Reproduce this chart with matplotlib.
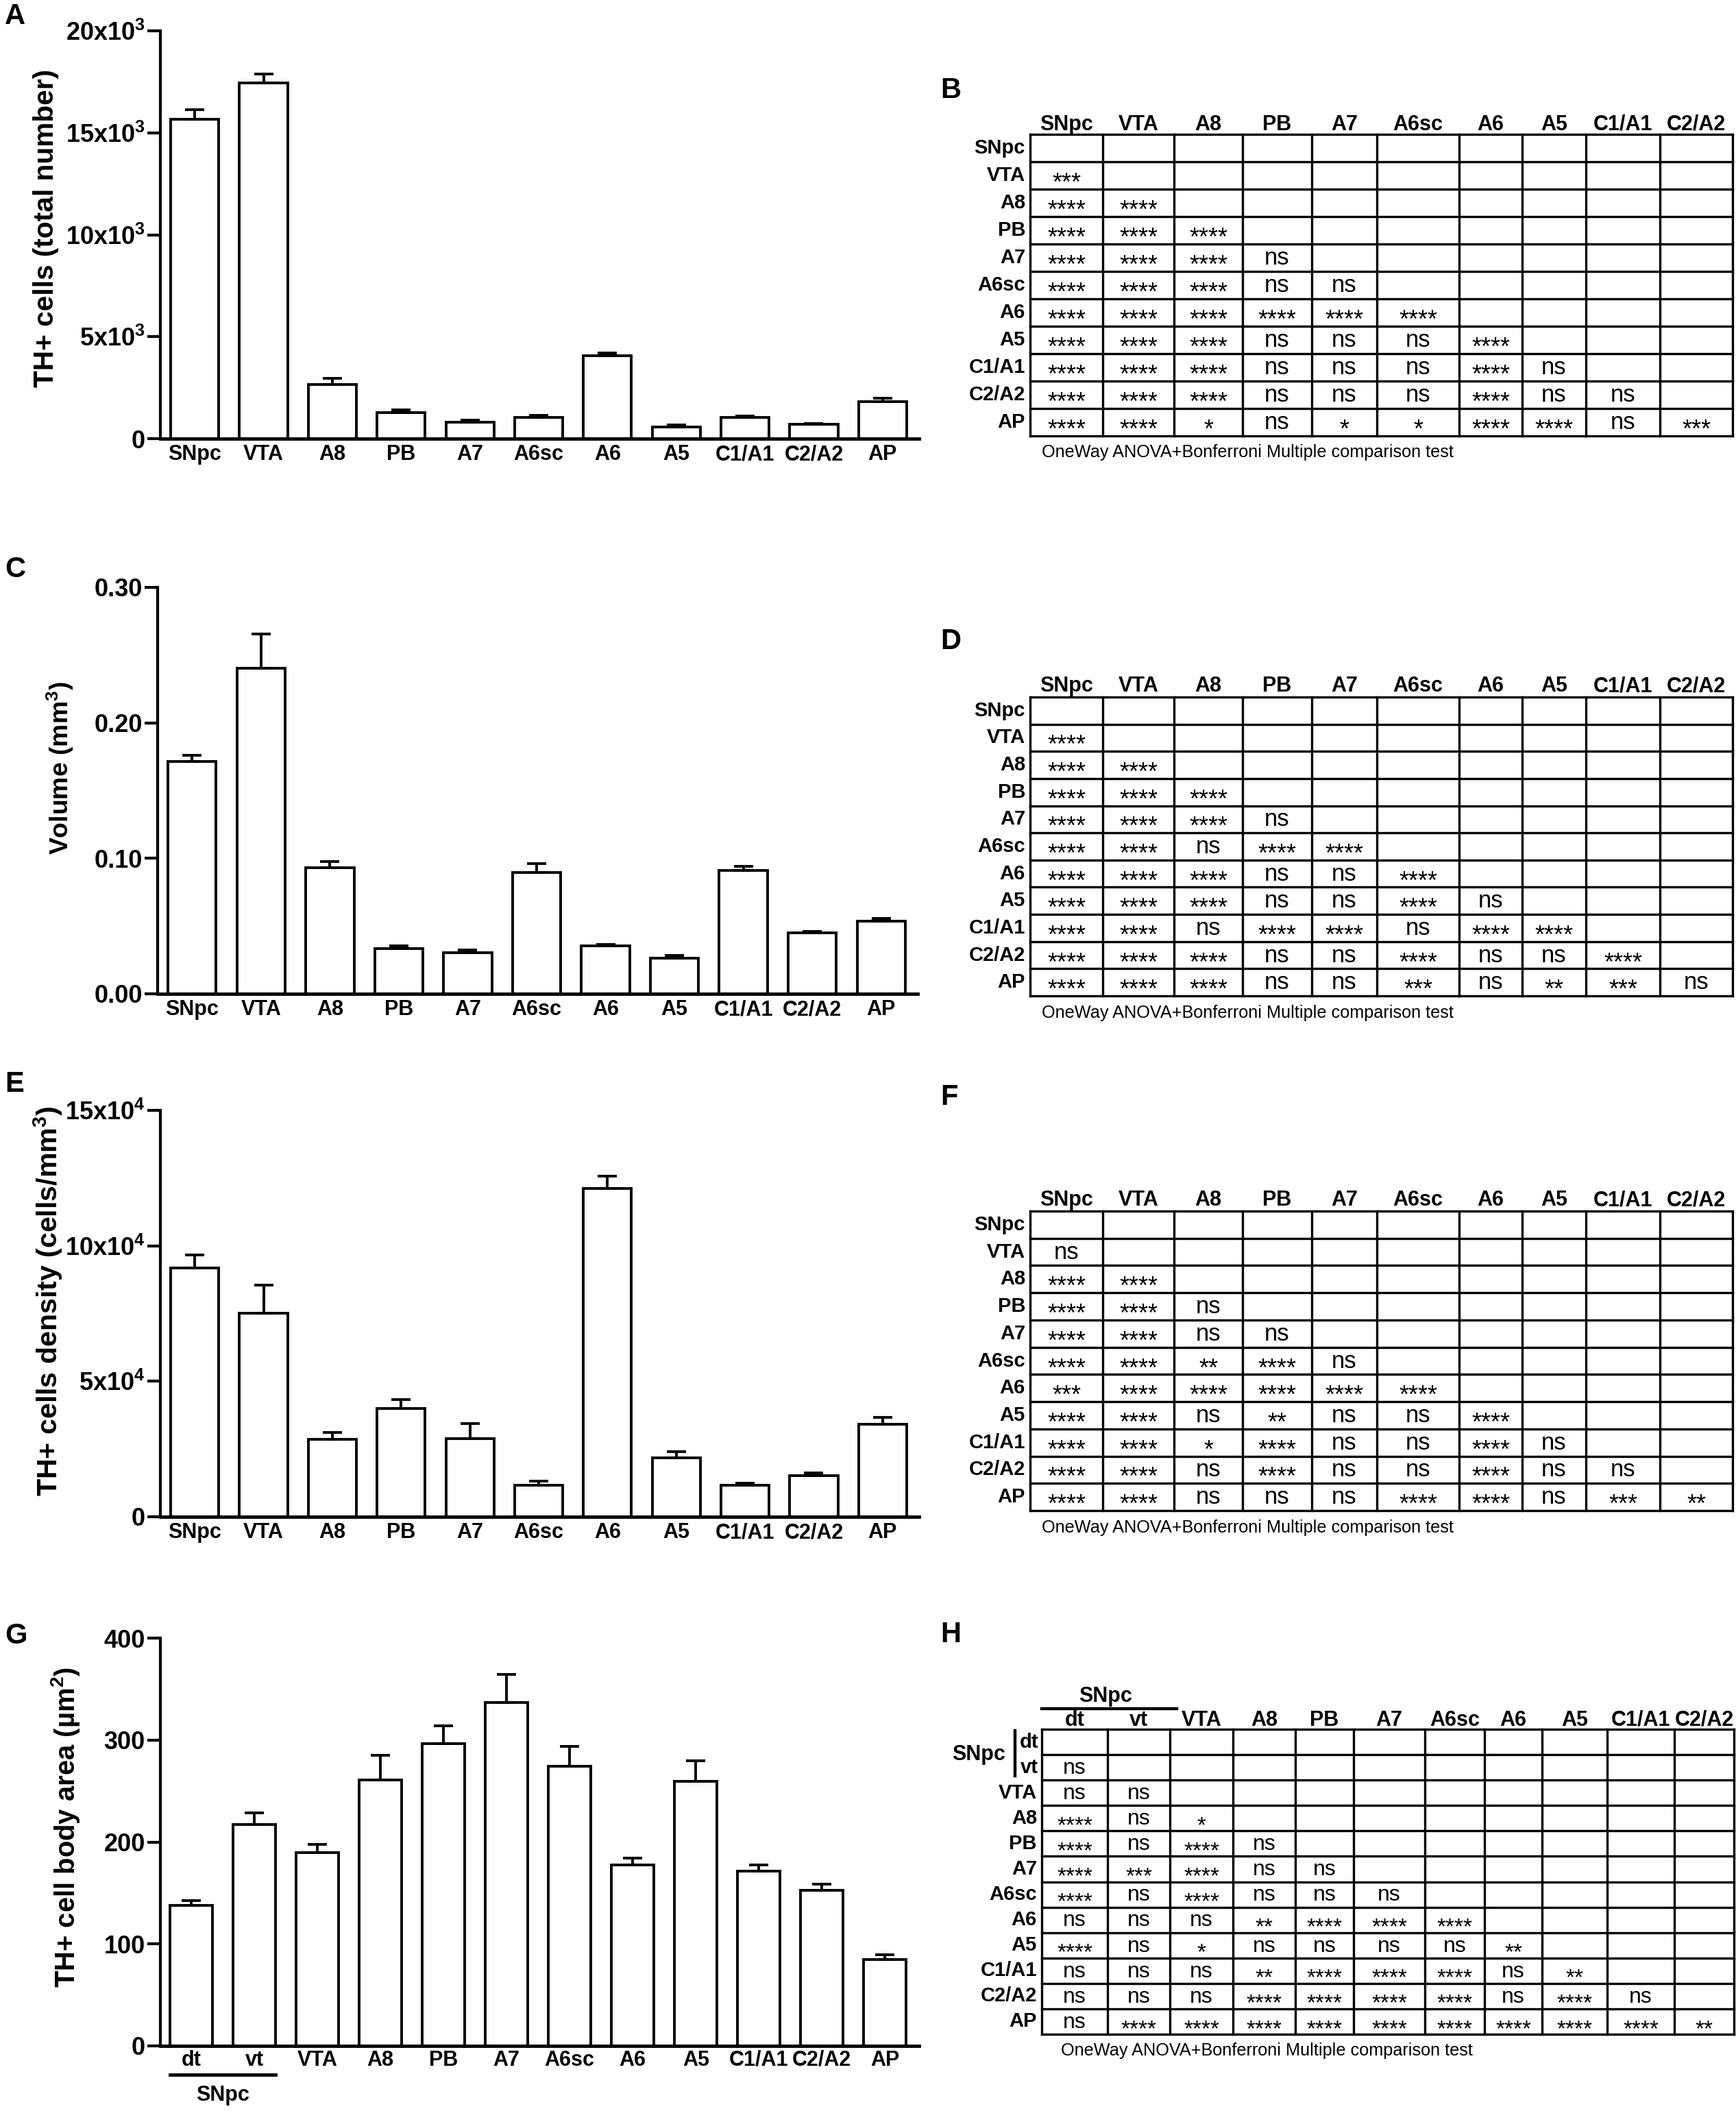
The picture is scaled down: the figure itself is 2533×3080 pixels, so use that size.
import numpy as np
import matplotlib
matplotlib.use('Agg')
import matplotlib.pyplot as plt
from matplotlib import font_manager
from matplotlib.transforms import blended_transform_factory

W, H = 2533, 3080

plt.rcParams['font.family'] = ['Liberation Sans', 'DejaVu Sans']
plt.rcParams['mathtext.default'] = 'regular'

names = {f.name for f in font_manager.fontManager.ttflist}
NARROW = 'Liberation Sans Narrow' if 'Liberation Sans Narrow' in names else 'Liberation Sans'

# ---- bar chart data ----
regions = ['SNpc', 'VTA', 'A8', 'PB', 'A7', 'A6sc', 'A6', 'A5', 'C1/A1', 'C2/A2', 'AP']

cell_number = [15660, 17450, 2650, 1270, 810, 1030, 4070, 580, 1050, 700, 1810]
cell_number_sem = [470, 440, 300, 140, 100, 120, 120, 80, 60, 50, 170]

volume = [0.1714, 0.2402, 0.0929, 0.0332, 0.0302, 0.0893, 0.0352, 0.0264, 0.0909, 0.0449, 0.0537]
volume_sem = [0.0046, 0.0253, 0.0046, 0.0022, 0.0023, 0.0068, 0.0013, 0.0018, 0.0032, 0.0011, 0.0020]

density = [91700, 75200, 28500, 40000, 28900, 11600, 121200, 21700, 11600, 15300, 34100]
density_sem = [4900, 10400, 2600, 3200, 5400, 1600, 4400, 2300, 700, 900, 2500]

area_labels = ['dt', 'vt', 'VTA', 'A8', 'PB', 'A7', 'A6sc', 'A6', 'A5', 'C1/A1', 'C2/A2', 'AP']
cell_area = [137.5, 217.2, 189.7, 260.6, 296.3, 336.8, 274.2, 177.7, 259.3, 171.1, 152.4, 84.7]
cell_area_sem = [4.8, 11.4, 7.9, 24.6, 17.4, 27.5, 19.6, 6.3, 20.2, 6.6, 6.3, 4.5]

# ---- comparison tables (lower triangle, row by row) ----
table_cols = ['SNpc', 'VTA', 'A8', 'PB', 'A7', 'A6sc', 'A6', 'A5', 'C1/A1', 'C2/A2']
table_rows = regions

sig_number = [
    [],
    ['***'],
    ['****', '****'],
    ['****', '****', '****'],
    ['****', '****', '****', 'ns'],
    ['****', '****', '****', 'ns', 'ns'],
    ['****', '****', '****', '****', '****', '****'],
    ['****', '****', '****', 'ns', 'ns', 'ns', '****'],
    ['****', '****', '****', 'ns', 'ns', 'ns', '****', 'ns'],
    ['****', '****', '****', 'ns', 'ns', 'ns', '****', 'ns', 'ns'],
    ['****', '****', '*', 'ns', '*', '*', '****', '****', 'ns', '***'],
]

sig_volume = [
    [],
    ['****'],
    ['****', '****'],
    ['****', '****', '****'],
    ['****', '****', '****', 'ns'],
    ['****', '****', 'ns', '****', '****'],
    ['****', '****', '****', 'ns', 'ns', '****'],
    ['****', '****', '****', 'ns', 'ns', '****', 'ns'],
    ['****', '****', 'ns', '****', '****', 'ns', '****', '****'],
    ['****', '****', '****', 'ns', 'ns', '****', 'ns', 'ns', '****'],
    ['****', '****', '****', 'ns', 'ns', '***', 'ns', '**', '***', 'ns'],
]

sig_density = [
    [],
    ['ns'],
    ['****', '****'],
    ['****', '****', 'ns'],
    ['****', '****', 'ns', 'ns'],
    ['****', '****', '**', '****', 'ns'],
    ['***', '****', '****', '****', '****', '****'],
    ['****', '****', 'ns', '**', 'ns', 'ns', '****'],
    ['****', '****', '*', '****', 'ns', 'ns', '****', 'ns'],
    ['****', '****', 'ns', '****', 'ns', 'ns', '****', 'ns', 'ns'],
    ['****', '****', 'ns', 'ns', 'ns', '****', '****', 'ns', '***', '**'],
]

area_cols = ['dt', 'vt', 'VTA', 'A8', 'PB', 'A7', 'A6sc', 'A6', 'A5', 'C1/A1', 'C2/A2']
area_rows = ['dt', 'vt', 'VTA', 'A8', 'PB', 'A7', 'A6sc', 'A6', 'A5', 'C1/A1', 'C2/A2', 'AP']
sig_area = [
    [],
    ['ns'],
    ['ns', 'ns'],
    ['****', 'ns', '*'],
    ['****', 'ns', '****', 'ns'],
    ['****', '***', '****', 'ns', 'ns'],
    ['****', 'ns', '****', 'ns', 'ns', 'ns'],
    ['ns', 'ns', 'ns', '**', '****', '****', '****'],
    ['****', 'ns', '*', 'ns', 'ns', 'ns', 'ns', '**'],
    ['ns', 'ns', 'ns', '**', '****', '****', '****', 'ns', '**'],
    ['ns', 'ns', 'ns', '****', '****', '****', '****', 'ns', '****', 'ns'],
    ['ns', '****', '****', '****', '****', '****', '****', '****', '****', '****', '**'],
]

note = 'OneWay ANOVA+Bonferroni Multiple comparison test'

fig = plt.figure(figsize=(W / 100, H / 100), dpi=100)
renderer = fig.canvas.get_renderer()

ov = fig.add_axes([0, 0, 1, 1])
ov.set_xlim(0, W)
ov.set_ylim(H, 0)
ov.axis('off')


def px_rect(x0, y0, x1, y1):
    return [x0 / W, 1 - y1 / H, (x1 - x0) / W, (y1 - y0) / H]


def fit(txt, target, dim='w'):
    # scale a text so that it spans `target` pixels
    bb = txt.get_window_extent(renderer)
    cur = bb.width if dim == 'w' else bb.height
    txt.set_fontsize(txt.get_fontsize() * target / cur)


def bar_panel(rect, labels, means, sems, ymax, ticks, ticklabels, ylabel, label_pos, label_len,
              width=0.7, xlim=(-0.5, 10.53), pad=6):
    ax = fig.add_axes(px_rect(*rect))
    x = np.arange(len(labels))
    ax.bar(x, means, width, color='white', edgecolor='black', linewidth=2.8, zorder=2)
    ax.errorbar(x, means, yerr=[np.zeros(len(means)), sems], fmt='none', ecolor='black',
                elinewidth=2.8, capsize=10, capthick=2.8, zorder=3)
    ax.set_xlim(*xlim)
    ax.set_ylim(0, ymax)
    ax.spines['top'].set_visible(False)
    ax.spines['right'].set_visible(False)
    ax.spines['left'].set_linewidth(3)
    ax.spines['bottom'].set_linewidth(3.5)
    ax.spines['bottom'].set_zorder(4)
    ax.set_yticks(ticks)
    ax.set_yticklabels(ticklabels, fontsize=26, fontweight='bold')
    ax.set_xticks(x)
    ax.set_xticklabels(labels, fontsize=22, fontweight='bold')
    ax.tick_params(axis='y', length=14, width=3, pad=2)
    ax.tick_params(axis='x', length=0, pad=pad)
    ax.set_ylabel(ylabel, fontsize=30, fontweight='bold')
    ax.yaxis.label.set_va('center')
    ax.yaxis.set_label_coords(*label_pos)
    fit(ax.yaxis.label, label_len, 'h')
    return ax


def put_cell(x, y, s, size):
    em = size * 100 / 72
    if s == 'ns':
        ov.text(x, y + 0.26 * em + 1, s, ha='center', va='baseline', fontsize=size)
    else:
        ov.text(x, y + 0.575 * em + 2, s, ha='center', va='baseline', fontsize=size + 1)


def sig_table(left, top, bottom, col_w, col_labels, row_labels, cells, note_x, note_y,
              header_gap=15, size=25):
    xs = left + np.concatenate([[0], np.cumsum(col_w)])
    ys = np.linspace(top, bottom, len(row_labels) + 1)
    for xv in xs:
        ov.plot([xv, xv], [top, bottom], color='black', lw=2.4, solid_capstyle='projecting')
    for yv in ys:
        ov.plot([xs[0], xs[-1]], [yv, yv], color='black', lw=2.4, solid_capstyle='projecting')
    cx = (xs[:-1] + xs[1:]) / 2
    cy = (ys[:-1] + ys[1:]) / 2
    for c, lab in zip(cx, col_labels):
        ov.text(c, top - header_gap, lab, ha='center', va='center', fontsize=22, fontweight='bold')
    for r, lab in zip(cy, row_labels):
        if lab:
            ov.text(left - 7, r, lab, ha='right', va='center', fontsize=21, fontweight='bold')
    for i, row in enumerate(cells):
        for j, s in enumerate(row):
            put_cell(cx[j], cy[i], s, size)
    t = ov.text(note_x, note_y + 2, note, ha='left', va='center', fontsize=20, family=NARROW)
    fit(t, 600)
    return xs, ys


# ---- A ----
bar_panel((234, 45, 1341, 640), regions, cell_number, cell_number_sem, 20000,
          [0, 5000, 10000, 15000, 20000],
          ['0', r'5x10$^3$', r'10x10$^3$', r'15x10$^3$', r'20x10$^3$'],
          'TH+ cells (total number)', (-0.151, 0.516), 464)

# ---- C ----
bar_panel((230, 857, 1339, 1450), regions, volume, volume_sem, 0.30,
          [0, 0.1, 0.2, 0.3], ['0.00', '0.10', '0.20', '0.30'],
          r'Volume (mm$^3$)', (-0.128, 0.556), 252)

# ---- E ----
bar_panel((234, 1620, 1341, 2213), regions, density, density_sem, 150000,
          [0, 50000, 100000, 150000], ['0', r'5x10$^4$', r'10x10$^4$', r'15x10$^4$'],
          r'TH+ cells density (cells/mm$^3$)', (-0.148, 0.531), 569)

# ---- G ----
bw = 0.67
axg = bar_panel((234, 2390, 1341, 2985), area_labels, cell_area, cell_area_sem, 400,
                [0, 100, 200, 300, 400], ['0', '100', '200', '300', '400'],
                r'TH+ cell body area (µm$^2$)', (-0.125, 0.536), 467,
                width=bw, xlim=(-0.49, 11.54), pad=4)
tr = blended_transform_factory(axg.transData, axg.transAxes)
axg.plot([-bw / 2, 1 + bw / 2], [-0.071, -0.071], color='black', lw=3.5, transform=tr, clip_on=False)
axg.text(0.5, -0.121, 'SNpc', transform=tr, ha='center', va='center', fontsize=22, fontweight='bold')

# ---- tables ----
col_w_main = [106, 104, 100, 101, 95, 120, 92, 93, 108, 106]
col_w_area = [96, 91, 92, 91, 85, 104, 87, 84, 95, 98, 87]

sig_table(1503, 196, 636, col_w_main, table_cols, table_rows, sig_number, 1520, 658, header_gap=14)
sig_table(1503, 1017, 1453, col_w_main, table_cols, table_rows, sig_volume, 1520, 1476, header_gap=16)
sig_table(1503, 1767, 2204, col_w_main, table_cols, table_rows, sig_density, 1520, 2227, header_gap=16)
xs_h, ys_h = sig_table(1520, 2523, 2968, col_w_area, area_cols, [''] * 2 + area_rows[2:], sig_area,
                       1548, 2990, header_gap=13, size=23)

# SNpc sub-headers in H
ov.plot([xs_h[0], xs_h[2] + 10], [2493, 2493], color='black', lw=3.2)
ov.text((xs_h[0] + xs_h[2]) / 2, 2475, 'SNpc', ha='center', va='center', fontsize=22, fontweight='bold')
ov.plot([1481, 1481], [ys_h[0] + 2, ys_h[2] - 6], color='black', lw=3.2)
ov.text(1428, ys_h[1], 'SNpc', ha='center', va='center', fontsize=22, fontweight='bold')
for k, lab in enumerate(area_rows[:2]):
    ov.text(1515, (ys_h[k] + ys_h[k + 1]) / 2, lab, ha='right', va='center', fontsize=21, fontweight='bold')

# ---- panel letters ----
for lab, x, y in [('A', 7, 24), ('C', 7, 831), ('E', 7, 1582), ('G', 7, 2387),
                  ('B', 1372, 132), ('D', 1372, 936), ('F', 1372, 1601), ('H', 1372, 2385)]:
    ov.text(x, y, lab, ha='left', va='center', fontsize=30, fontweight='bold')

fig.savefig('out.png', dpi=100)
